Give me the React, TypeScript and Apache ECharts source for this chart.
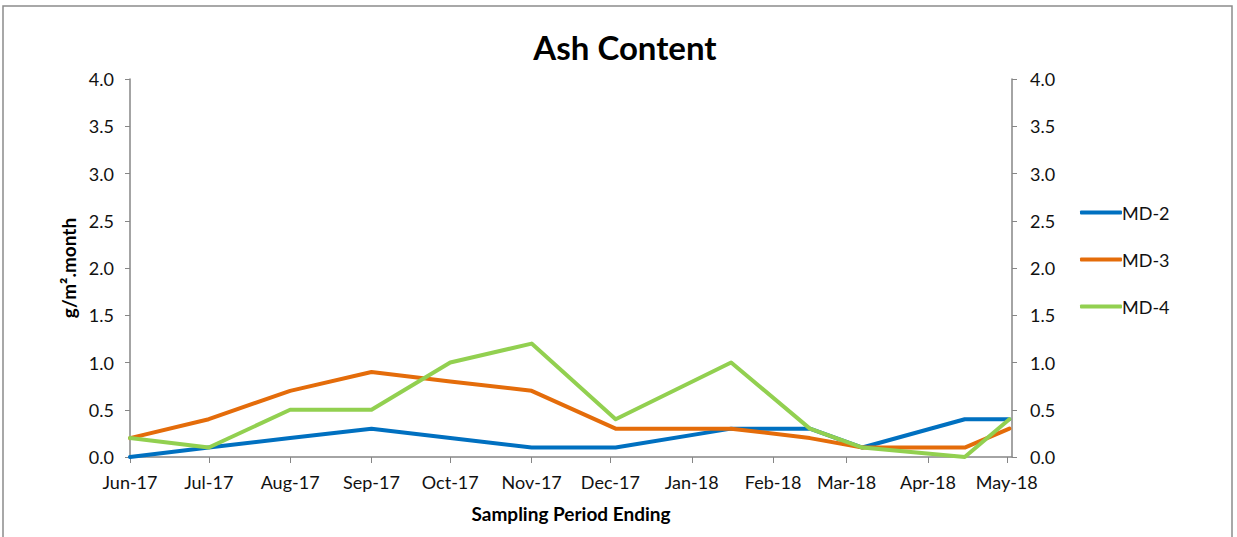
import React, { useEffect, useRef } from "react";
import * as echarts from "echarts";

const sampleDates = [
  "2017-06-01", "2017-07-01", "2017-08-01", "2017-09-01", "2017-10-01", "2017-11-01",
  "2017-12-03", "2018-01-16", "2018-02-15", "2018-03-07", "2018-04-15", "2018-05-02",
];
const md2 = [0.0, 0.1, 0.2, 0.3, 0.2, 0.1, 0.1, 0.3, 0.3, 0.1, 0.4, 0.4];
const md3 = [0.2, 0.4, 0.7, 0.9, 0.8, 0.7, 0.3, 0.3, 0.2, 0.1, 0.1, 0.3];
const md4 = [0.2, 0.1, 0.5, 0.5, 1.0, 1.2, 0.4, 1.0, 0.3, 0.1, 0.0, 0.4];
const tickMonths = [
  "2017-06-01", "2017-07-01", "2017-08-01", "2017-09-01", "2017-10-01", "2017-11-01",
  "2017-12-01", "2018-01-01", "2018-02-01", "2018-03-01", "2018-04-01", "2018-05-01",
];
const axisStart = "2017-06-01";
const axisEnd = "2018-05-03";
const monthNames = ["Jan", "Feb", "Mar", "Apr", "May", "Jun", "Jul", "Aug", "Sep", "Oct", "Nov", "Dec"];

const toTs = (s: string) => {
  const [y, m, d] = s.split("-").map(Number);
  return new Date(y, m - 1, d).getTime();
};
const fmt = (v: number) => {
  const d = new Date(v);
  return monthNames[d.getMonth()] + "-" + String(d.getFullYear() % 100).padStart(2, "0");
};

export default function App() {
  const ref = useRef<HTMLDivElement>(null);
  useEffect(() => {
    document.body.style.margin = "0";
    const chart = echarts.init(ref.current!, null, { renderer: "svg" });
    const font = "Lato";
    const axisColor = "#868686";
    const ticks = tickMonths.map(toTs);
    const mk = (name: string, vals: number[], color: string) => ({
      name,
      type: "line",
      data: sampleDates.map((d, i) => [toTs(d), vals[i]]),
      symbol: "none",
      lineStyle: { width: 4, color, cap: "round", join: "round" },
      itemStyle: { color },
    });
    const yBase = {
      type: "value",
      min: 0,
      max: 4,
      interval: 0.5,
      axisLine: { show: true, lineStyle: { color: axisColor, width: 1.5 } },
      axisTick: { show: true, length: 5, lineStyle: { color: axisColor } },
      splitLine: { show: false },
      axisLabel: {
        color: "#111",
        fontSize: 18,
        fontFamily: font,
        formatter: (v: number) => v.toFixed(1),
      },
    };
    chart.setOption({
      animation: false,
      textStyle: { fontFamily: font },
      title: {
        text: "Ash Content",
        left: 620,
        textAlign: "center",
        top: 25,
        textStyle: { fontSize: 33, fontWeight: "bold", color: "#000", fontFamily: font },
      },
      graphic: [
        {
          type: "rect",
          shape: { x: 3, y: 6, width: 1229, height: 560 },
          style: { fill: "none", stroke: "#8c8c8c", lineWidth: 1.5 },
          silent: true,
        },
      ],
      grid: { left: 130, right: 225, top: 79, bottom: 80 },
      legend: {
        orient: "vertical",
        left: 1075,
        top: 197,
        icon: "roundRect",
        itemWidth: 42,
        itemHeight: 4,
        itemGap: 26,
        textStyle: { fontSize: 18, color: "#111", fontFamily: font, padding: [0, 0, 0, -5], lineHeight: 21 },
        data: ["MD-2", "MD-3", "MD-4"],
      },
      xAxis: {
        type: "value",
        min: toTs(axisStart),
        max: toTs(axisEnd),
        name: "Sampling Period Ending",
        nameLocation: "middle",
        nameGap: 47,
        nameTextStyle: { fontSize: 19, fontWeight: "bold", color: "#000", fontFamily: font },
        axisLine: { show: true, lineStyle: { color: axisColor, width: 1.5 } },
        axisTick: { show: true, length: 6, customValues: ticks, lineStyle: { color: axisColor } },
        splitLine: { show: false },
        axisLabel: {
          customValues: ticks,
          color: "#111",
          fontSize: 18,
          fontFamily: font,
          margin: 16,
          formatter: (v: number) => fmt(v),
          hideOverlap: false,
          showMinLabel: true,
          showMaxLabel: true,
        },
      },
      yAxis: [
        {
          ...yBase,
          position: "left",
          name: "g/m².month",
          nameLocation: "middle",
          nameGap: 44,
          nameRotate: 90,
          nameTextStyle: { fontSize: 19, fontWeight: "bold", color: "#000", fontFamily: font },
          axisLabel: { ...yBase.axisLabel, margin: 16 },
        },
        {
          ...yBase,
          position: "right",
          axisLabel: { ...yBase.axisLabel, margin: 18 },
        },
      ],
      series: [
        mk("MD-2", md2, "#0070C0"),
        mk("MD-3", md3, "#E46C0A"),
        mk("MD-4", md4, "#92D050"),
      ],
    });
    return () => chart.dispose();
  }, []);
  return <div ref={ref} style={{ width: 1237, height: 537 }} />;
}
